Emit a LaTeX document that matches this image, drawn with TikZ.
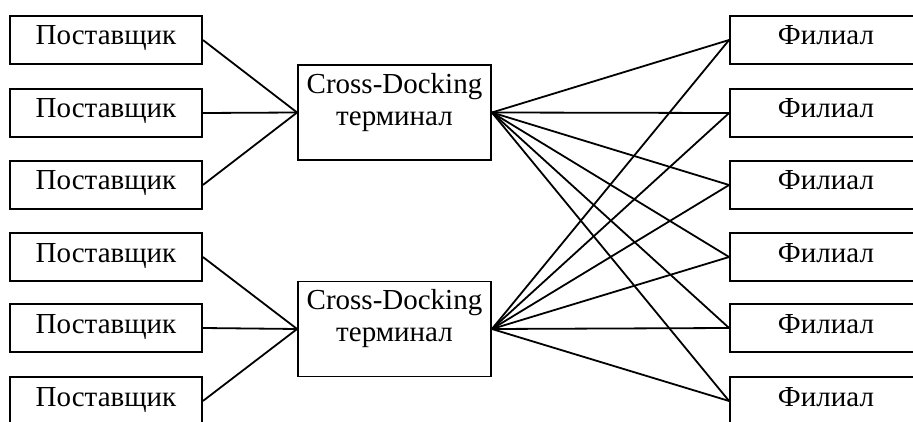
\documentclass[tikz,border=0pt]{standalone}
\usepackage{fontspec}
\setmainfont{Liberation Serif}
\tikzset{
  every picture/.style={x=1pt,y=-1pt},
  unitbox/.style={draw, line width=1.8pt, minimum width=192pt, minimum height=48pt,
    inner sep=0pt, text height=19pt, text depth=9pt, font=\fontsize{29}{32}\selectfont},
  termbox/.style={draw, line width=1.8pt, minimum width=193pt, minimum height=95pt, inner sep=0pt},
  termtext/.style={align=center, inner sep=0pt, font=\fontsize{29}{32}\selectfont},
  link/.style={line width=1.8pt}
}
\begin{document}
\begin{tikzpicture}
\useasboundingbox (0,0) rectangle (913,422);
% suppliers
\node[unitbox] (s1) at (106,40) {Поставщик};
\node[unitbox] (s2) at (106,113) {Поставщик};
\node[unitbox] (s3) at (106,185) {Поставщик};
\node[unitbox] (s4) at (106,257) {Поставщик};
\node[unitbox] (s5) at (106,328) {Поставщик};
\node[unitbox] (s6) at (106,401) {Поставщик};
% cross-docking terminals
\node[termbox] (t1) at (394.5,112.5) {};
\node[termtext] (t1l) at ([yshift=10pt]t1.center) {Cross-Docking\\терминал};
\node[termbox] (t2) at (394.5,329) {};
\node[termtext] (t2l) at ([yshift=10pt]t2.center) {Cross-Docking\\терминал};
% branches
\node[unitbox] (f1) at (826,40) {Филиал};
\node[unitbox] (f2) at (826,113) {Филиал};
\node[unitbox] (f3) at (826,185) {Филиал};
\node[unitbox] (f4) at (826,257) {Филиал};
\node[unitbox] (f5) at (826,328) {Филиал};
\node[unitbox] (f6) at (826,401) {Филиал};
% supplier links
\foreach \s in {s1,s2,s3} \draw[link] (\s.east) -- (t1.west);
\foreach \s in {s4,s5,s6} \draw[link] (\s.east) -- (t2.west);
% distribution links
\foreach \t in {t1,t2}
  \foreach \f in {f1,f2,f3,f4,f5,f6}
    \draw[link] (\t.east) -- (\f.west);
\end{tikzpicture}
\end{document}
